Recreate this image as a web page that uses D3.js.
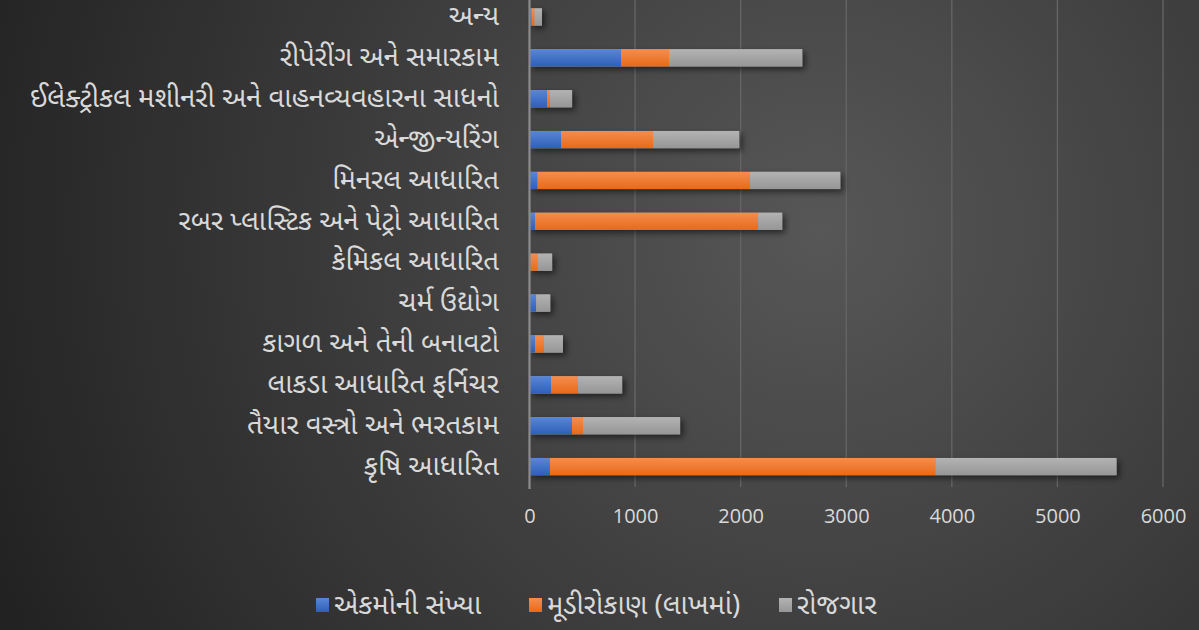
<!DOCTYPE html>
<html><head><meta charset="utf-8">
<script src="https://cdn.jsdelivr.net/npm/d3@7"></script>
<style>body{margin:0;background:#333} svg{display:block}</style>
</head><body><svg id="c" width="1199" height="630"></svg>
<script>
const categories = [
  "અન્ય",
  "રીપેરીંગ અને સમારકામ",
  "ઈલેક્ટ્રીકલ મશીનરી અને વાહનવ્યવહારના સાધનો",
  "એન્જીન્યરિંગ",
  "મિનરલ આધારિત",
  "રબર પ્લાસ્ટિક અને પેટ્રો આધારિત",
  "કેમિકલ આધારિત",
  "ચર્મ ઉદ્યોગ",
  "કાગળ અને તેની બનાવટો",
  "લાકડા આધારિત ફર્નિચર",
  "તૈયાર વસ્ત્રો અને ભરતકામ",
  "કૃષિ આધારિત"
];
const seriesNames = ["એકમોની સંખ્યા", "મૂડીરોકાણ (લાખમાં)", "રોજગાર"];
const units      = [20, 867, 166, 299, 77, 52, 8, 62, 52, 204, 403, 194];
const investment = [28, 455, 28, 872, 2013, 2114, 70, 2, 85, 256, 104, 3653];
const employment = [70, 1261, 209, 815, 853, 227, 136, 132, 180, 417, 919, 1712];
const xTicks = [0, 1000, 2000, 3000, 4000, 5000, 6000];

const W = 1199, H = 630;
const svg = d3.select("#c");
const defs = svg.append("defs");
const FONT = "'Noto Sans Gujarati','Noto Sans','Lohit Gujarati','Shruti',sans-serif";
const GFS = 27.5;

// background
const bg = defs.append("radialGradient").attr("id","bg").attr("gradientUnits","userSpaceOnUse")
  .attr("cx", 820).attr("cy", 230).attr("r", 900);
bg.append("stop").attr("offset","0%").attr("stop-color","#575757");
bg.append("stop").attr("offset","100%").attr("stop-color","#222222");
svg.append("rect").attr("width",W).attr("height",H).attr("fill","url(#bg)");

const colors = [["#5a86d6","#2f5fb8"],["#f58d4e","#e86a18"],["#b3b3b3","#969696"]];
colors.forEach((c,i)=>{
  const g = defs.append("linearGradient").attr("id","g"+i).attr("x1",0).attr("y1",0).attr("x2",0).attr("y2",1);
  g.append("stop").attr("offset","0%").attr("stop-color",c[0]);
  g.append("stop").attr("offset","100%").attr("stop-color",c[1]);
});
const f = defs.append("filter").attr("id","sh").attr("x","-10%").attr("y","-50%").attr("width","130%").attr("height","250%");
f.append("feDropShadow").attr("dx",3).attr("dy",3).attr("stdDeviation",3).attr("flood-color","#000").attr("flood-opacity",0.55);

const x = d3.scaleLinear().domain([0,6000]).range([529.5, 1163]);
const y = d3.scaleBand().domain(categories).range([-3.5, 487]).paddingInner(0.58).paddingOuter(0.29);

// gridlines
svg.append("g").selectAll("line").data(xTicks.slice(1)).join("line")
  .attr("x1", d=>x(d)).attr("x2", d=>x(d)).attr("y1", 0).attr("y2", 487)
  .attr("stroke","#666").attr("stroke-width",1.3);

// stacked data
const rows = categories.map((c,i)=>({cat:c, s0:units[i], s1:investment[i], s2:employment[i]}));
const stack = d3.stack().keys(["s0","s1","s2"])(rows);

const barsG = svg.append("g");
barsG.append("g").attr("filter","url(#sh)").selectAll("rect").data(rows).join("rect")
  .attr("x", x(0)).attr("y", d=>y(d.cat)).attr("height", y.bandwidth())
  .attr("width", d=>x(d.s0+d.s1+d.s2)-x(0)).attr("fill","#999");
stack.forEach((layer,i)=>{
  barsG.append("g").selectAll("rect").data(layer).join("rect")
    .attr("x", d=>x(d[0])).attr("y", d=>y(d.data.cat)).attr("height", y.bandwidth())
    .attr("width", d=>Math.max(0, x(d[1])-x(d[0]))).attr("fill","url(#g"+i+")");
});

// y axis line
svg.append("line").attr("x1",x(0)).attr("x2",x(0)).attr("y1",0).attr("y2",489)
  .attr("stroke","#8c8c8c").attr("stroke-width",2.2);

// x tick labels
const xa = svg.append("g").attr("transform","translate(0,487)")
  .call(d3.axisBottom(x).tickValues(xTicks).tickSize(0).tickPadding(22).tickFormat(d3.format("d")));
xa.select(".domain").remove();
xa.selectAll("text").attr("fill","#d9d9d9").attr("font-size",20).attr("font-family","'Open Sans',sans-serif");

// category labels
const ya = svg.append("g").attr("transform","translate(499,0)")
  .call(d3.axisLeft(y).tickSize(0).tickPadding(0));
ya.select(".domain").remove();
ya.selectAll("text").attr("fill","#d9d9d9").attr("font-size",GFS).attr("font-family",FONT).attr("dy","0.3em");

// legend
const legX = [316, 529, 779];
const lg = svg.append("g");
seriesNames.forEach((n,i)=>{
  lg.append("rect").attr("x",legX[i]).attr("y",598).attr("width",13).attr("height",14).attr("fill","url(#g"+i+")");
  lg.append("text").attr("x",legX[i]+18).attr("y",605).attr("dy","0.33em").attr("fill","#d9d9d9")
    .attr("font-size",GFS).attr("font-family",FONT).text(n);
});
</script></body></html>
